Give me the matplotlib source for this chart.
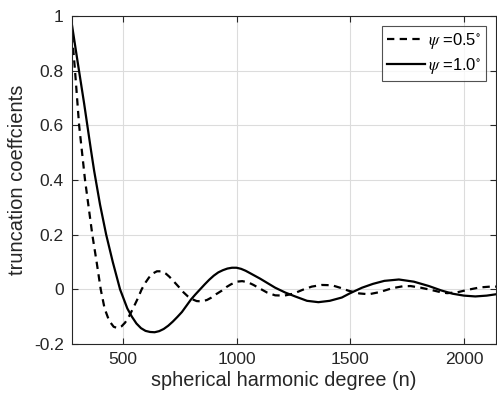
import matplotlib
matplotlib.use("Agg")
import matplotlib.pyplot as plt
from matplotlib.ticker import FuncFormatter

# psi = 1.0 deg (solid)
n_psi10 = [277, 300, 330, 360, 374, 400, 427, 456, 488, 520, 540, 560, 580, 600,
           620, 640, 660, 680, 700, 720, 740, 760, 780, 800, 820, 840, 860, 880,
           900, 920, 940, 960, 980, 1000, 1020, 1040, 1060, 1082, 1104, 1126,
           1148, 1170, 1215, 1258, 1310, 1360, 1410, 1463, 1500, 1552, 1600, 1650,
           1714, 1780, 1846, 1900, 1950, 2000, 2050, 2100, 2150]
c_psi10 = [0.965, 0.84, 0.68, 0.51, 0.434, 0.31, 0.20, 0.10, 0.0, -0.07, -0.10,
           -0.125, -0.142, -0.152, -0.156, -0.157, -0.153, -0.145, -0.133, -0.118,
           -0.101, -0.083, -0.060, -0.037, -0.018, 0.0, 0.018, 0.035, 0.050,
           0.062, 0.070, 0.076, 0.079, 0.079, 0.075, 0.068, 0.059, 0.049, 0.039,
           0.028, 0.017, 0.006, -0.012, -0.026, -0.042, -0.047, -0.042, -0.030,
           -0.014, 0.006, 0.020, 0.031, 0.036, 0.028, 0.012, -0.004, -0.016,
           -0.023, -0.026, -0.023, -0.017]

# psi = 0.5 deg (dashed)
n_psi05 = [277, 290, 308, 334, 366, 385, 403, 420, 440, 460, 478, 495, 510, 528,
           545, 565, 583, 600, 615, 632, 650, 670, 690, 705, 723, 745, 767, 785,
           805, 825, 847, 870, 890, 910, 935, 955, 975, 1000, 1025, 1050, 1075,
           1096, 1135, 1170, 1210, 1250, 1290, 1331, 1375, 1419, 1455, 1492, 1540,
           1582, 1630, 1684, 1730, 1765, 1810, 1860, 1900, 1926, 1970, 2021, 2070,
           2117, 2150]
c_psi05 = [0.93, 0.80, 0.60, 0.40, 0.20, 0.10, 0.0, -0.07, -0.115, -0.137, -0.142,
           -0.135, -0.122, -0.098, -0.07, -0.035, 0.0, 0.025, 0.043, 0.058, 0.066,
           0.066, 0.057, 0.046, 0.030, 0.010, -0.011, -0.025, -0.036, -0.043,
           -0.044, -0.039, -0.030, -0.018, -0.005, 0.008, 0.018, 0.028, 0.030,
           0.026, 0.016, 0.006, -0.012, -0.022, -0.023, -0.016, -0.002, 0.010,
           0.016, 0.015, 0.006, -0.005, -0.015, -0.018, -0.010, 0.004, 0.011,
           0.012, 0.006, -0.003, -0.011, -0.014, -0.011, -0.001, 0.007, 0.010,
           0.010]

labels = [r'$\psi$ =0.5$^{\circ}$', r'$\psi$ =1.0$^{\circ}$']
xticks = [500, 1000, 1500, 2000]
yticks = [-0.2, 0, 0.2, 0.4, 0.6, 0.8, 1.0]

plt.rcParams['font.family'] = ['Liberation Sans', 'DejaVu Sans']
plt.rcParams['mathtext.fontset'] = 'stix'

fig = plt.figure(figsize=(4.97, 4.0), dpi=100)
ax = fig.add_axes([0.145, 0.14, 0.853, 0.82])

ax.plot(n_psi05, c_psi05, color='black', lw=1.6, dashes=[3.3, 2.4], label=labels[0])
ax.plot(n_psi10, c_psi10, color='black', lw=1.6, label=labels[1])

ax.set_xlim(277, 2141)
ax.set_ylim(-0.2, 1.0)
ax.set_xticks(xticks)
ax.set_yticks(yticks)
ax.yaxis.set_major_formatter(FuncFormatter(lambda v, p: ('%g' % round(v, 2))))
ax.grid(True, color='#dcdcdc', lw=0.8)
ax.set_axisbelow(True)
ax.tick_params(direction='in', length=4, width=0.8, colors='#262626',
               labelsize=12.5, top=True, right=True, labelcolor='#262626', pad=6)
for s in ax.spines.values():
    s.set_color('#262626')
    s.set_linewidth(0.8)

ax.set_xlabel('spherical harmonic degree (n)', fontsize=14.3, color='#262626', labelpad=3)
ax.set_ylabel('truncation coeffcients', fontsize=14.5, color='#262626', labelpad=5)

leg = ax.legend(loc='upper right', fontsize=12, frameon=True, fancybox=False,
                edgecolor='#262626', handlelength=2.3, borderaxespad=0.6,
                borderpad=0.3, labelspacing=0.3, handletextpad=0.15)
leg.get_frame().set_linewidth(0.8)

fig.savefig('out.png', dpi=100)
